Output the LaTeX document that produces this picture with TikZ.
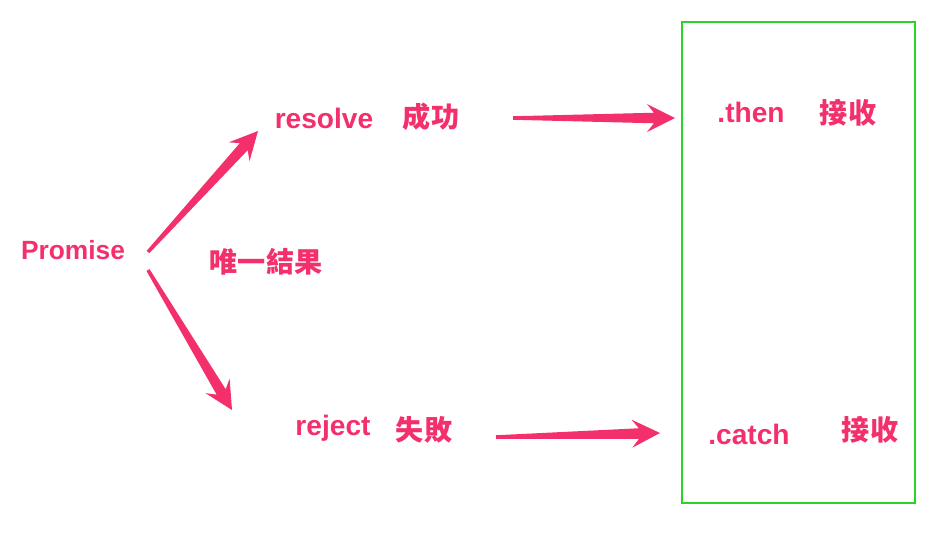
\documentclass[tikz,border=0pt]{standalone}
\usepackage{fontspec}
\setmainfont{Liberation Sans}
\newfontfamily\cjk{Noto Sans CJK TC}
\usetikzlibrary{calc}

\definecolor{promisepink}{RGB}{244,48,108}
\definecolor{boxgreen}{RGB}{45,210,40}

\begin{document}
\begin{tikzpicture}[x=0.02cm, y=-0.02cm,
		word/.style={text=promisepink, inner sep=0pt, font=\fontsize{16}{18}\selectfont\bfseries},
		han/.style={word, font=\fontsize{16}{18}\selectfont\cjk\bfseries},
		taper/.style={to path={let \p1=(\tikztostart), \p2=(\tikztotarget), \p3=($(\p2)!12pt!(\p1)$), \p4=($(\p2)!16pt!(\p1)$) in
			($(\p1)!1pt!90:(\p2)$) -- ($(\p3)!3pt!-90:(\p1)$) -- ($(\p4)!8pt!-90:(\p1)$) -- (\p2)
			-- ($(\p4)!8pt!90:(\p1)$) -- ($(\p3)!3pt!90:(\p1)$) -- ($(\p1)!1pt!-90:(\p2)$) -- cycle}}]
				\useasboundingbox[fill=white] (0,0) rectangle (939,532);
				% left side
				\node[word, font=\fontsize{15}{18}\selectfont\bfseries] (promise) at (73,250) {Promise};
				\node[word] (resolve) at (324,118) {resolve};
				\node[han] (success) at (431,117) {成功};
				\node[han] (onlyresult) at (266,262) {唯一結果};
				\node[word] (reject) at (333,428) {reject};
				\node[han] (failure) at (424,430) {失敗};
				% right box
				\draw[boxgreen, line width=1.2pt] (682,22) rectangle (915,503);
				\node[word] (then) at (751,112) {.then};
				\node[han] (thenrecv) at (848,113) {接收};
				\node[word] (catch) at (749,434) {.catch};
				\node[han] (catchrecv) at (870,430) {接收};
				% arrows
				\fill[promisepink] ([shift={(75,2)}]promise.center) to[taper] ([shift={(-66,13)}]resolve.center);
				\fill[promisepink] ([shift={(75,20)}]promise.center) to[taper] ([shift={(-101,-18)}]reject.center);
				\fill[promisepink] ([shift={(82,1)}]success.center) to[taper] ([shift={(-76,6)}]then.center);
				\fill[promisepink] ([shift={(72,7)}]failure.center) to[taper] ([shift={(-89,-1)}]catch.center);
			\end{tikzpicture}
\end{document}
